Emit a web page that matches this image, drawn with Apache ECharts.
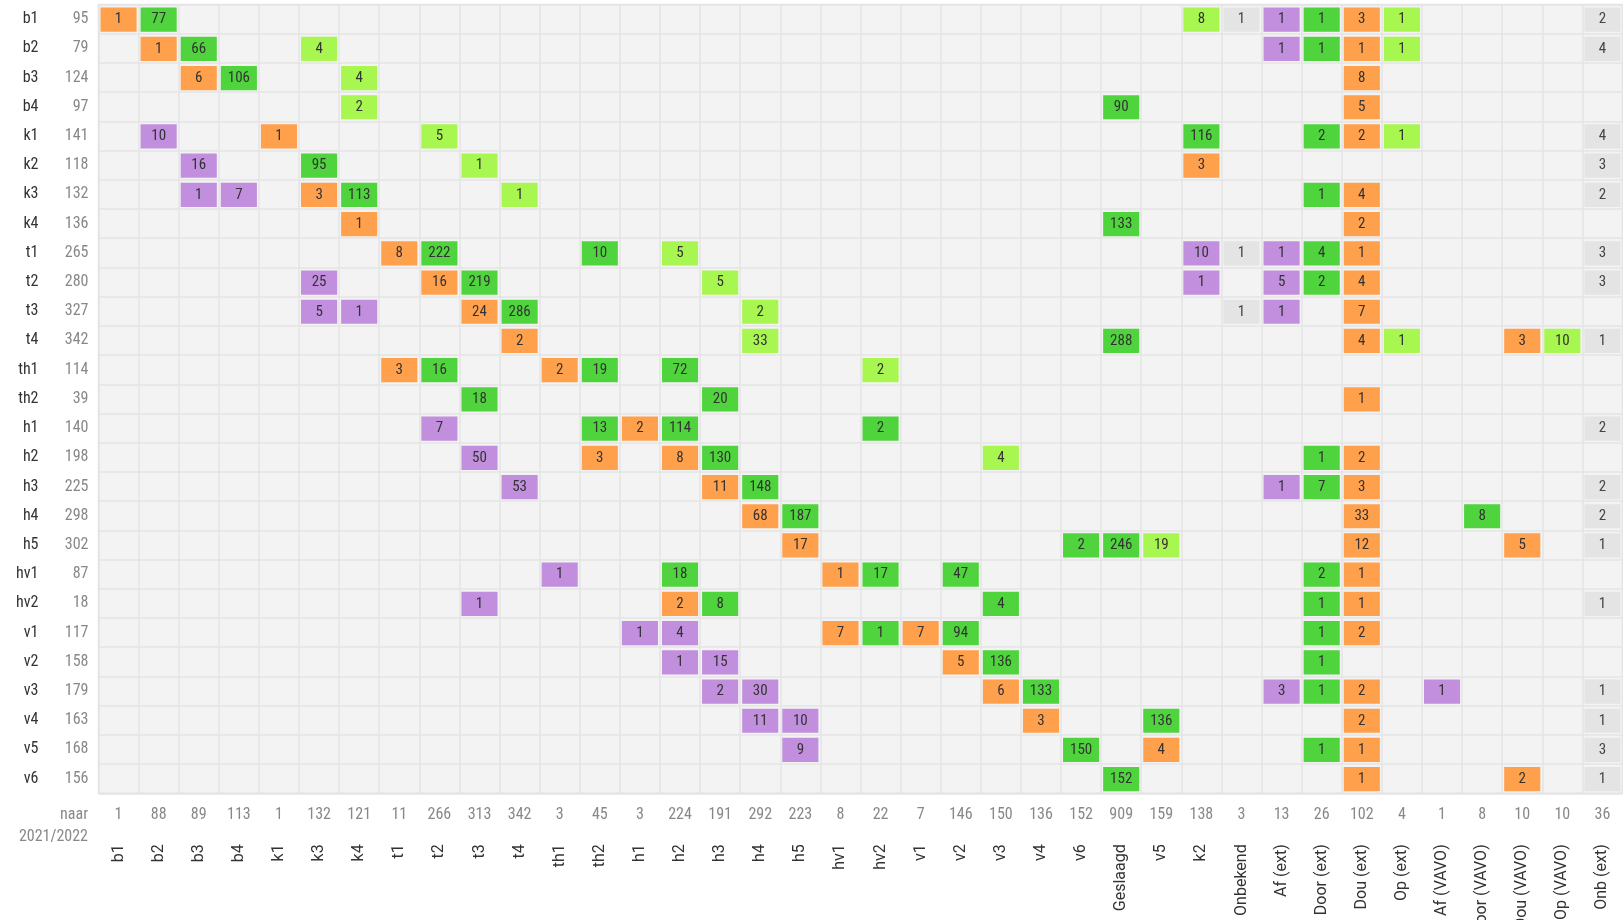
<!DOCTYPE html>
<html><head><meta charset="utf-8">
<script src="https://cdn.jsdelivr.net/npm/echarts@6/dist/echarts.min.js"></script>
<style>html,body{margin:0;padding:0;background:#fff}#c{width:1623px;height:920px}</style>
</head><body><div id="c"></div>
<script>
const rows = ['b1','b2','b3','b4','k1','k2','k3','k4','t1','t2','t3','t4','th1','th2','h1','h2','h3','h4','h5','hv1','hv2','v1','v2','v3','v4','v5','v6'];
const rowTotals = [95,79,124,97,141,118,132,136,265,280,327,342,114,39,140,198,225,298,302,87,18,117,158,179,163,168,156];
const cols = ['b1','b2','b3','b4','k1','k3','k4','t1','t2','t3','t4','th1','th2','h1','h2','h3','h4','h5','hv1','hv2','v1','v2','v3','v4','v6','Geslaagd','v5','k2','Onbekend','Af (ext)','Door (ext)','Dou (ext)','Op (ext)','Af (VAVO)','Door (VAVO)','Dou (VAVO)','Op (VAVO)','Onb (ext)'];
const colTotals = [1,88,89,113,1,132,121,11,266,313,342,3,45,3,224,191,292,223,8,22,7,146,150,136,152,909,159,138,3,13,26,102,4,1,8,10,10,36];

// [from (row), to (column), count]
const orangeCells = [
  ['b1','b1',1],['b1','Dou (ext)',3],
  ['b2','b2',1],['b2','Dou (ext)',1],
  ['b3','b3',6],['b3','Dou (ext)',8],
  ['b4','Dou (ext)',5],
  ['k1','k1',1],['k1','Dou (ext)',2],
  ['k2','k2',3],
  ['k3','k3',3],['k3','Dou (ext)',4],
  ['k4','k4',1],['k4','Dou (ext)',2],
  ['t1','t1',8],['t1','Dou (ext)',1],
  ['t2','t2',16],['t2','Dou (ext)',4],
  ['t3','t3',24],['t3','Dou (ext)',7],
  ['t4','t4',2],['t4','Dou (ext)',4],['t4','Dou (VAVO)',3],
  ['th1','t1',3],['th1','th1',2],
  ['th2','Dou (ext)',1],
  ['h1','h1',2],
  ['h2','th2',3],['h2','h2',8],['h2','Dou (ext)',2],
  ['h3','h3',11],['h3','Dou (ext)',3],
  ['h4','h4',68],['h4','Dou (ext)',33],
  ['h5','h5',17],['h5','Dou (ext)',12],['h5','Dou (VAVO)',5],
  ['hv1','hv1',1],['hv1','Dou (ext)',1],
  ['hv2','h2',2],['hv2','Dou (ext)',1],
  ['v1','hv1',7],['v1','v1',7],['v1','Dou (ext)',2],
  ['v2','v2',5],
  ['v3','v3',6],['v3','Dou (ext)',2],
  ['v4','v4',3],['v4','Dou (ext)',2],
  ['v5','v5',4],['v5','Dou (ext)',1],
  ['v6','Dou (ext)',1],['v6','Dou (VAVO)',2]
];
const greenCells = [
  ['b1','b2',77],['b1','Door (ext)',1],
  ['b2','b3',66],['b2','Door (ext)',1],
  ['b3','b4',106],
  ['b4','Geslaagd',90],
  ['k1','k2',116],['k1','Door (ext)',2],
  ['k2','k3',95],
  ['k3','k4',113],['k3','Door (ext)',1],
  ['k4','Geslaagd',133],
  ['t1','t2',222],['t1','th2',10],['t1','Door (ext)',4],
  ['t2','t3',219],['t2','Door (ext)',2],
  ['t3','t4',286],
  ['t4','Geslaagd',288],
  ['th1','t2',16],['th1','th2',19],['th1','h2',72],
  ['th2','t3',18],['th2','h3',20],
  ['h1','th2',13],['h1','h2',114],['h1','hv2',2],
  ['h2','h3',130],['h2','Door (ext)',1],
  ['h3','h4',148],['h3','Door (ext)',7],
  ['h4','h5',187],['h4','Door (VAVO)',8],
  ['h5','v6',2],['h5','Geslaagd',246],
  ['hv1','h2',18],['hv1','hv2',17],['hv1','v2',47],['hv1','Door (ext)',2],
  ['hv2','h3',8],['hv2','v3',4],['hv2','Door (ext)',1],
  ['v1','hv2',1],['v1','v2',94],['v1','Door (ext)',1],
  ['v2','v3',136],['v2','Door (ext)',1],
  ['v3','v4',133],['v3','Door (ext)',1],
  ['v4','v5',136],
  ['v5','v6',150],['v5','Door (ext)',1],
  ['v6','Geslaagd',152]
];
const limeCells = [
  ['b1','k2',8],['b1','Op (ext)',1],
  ['b2','k3',4],['b2','Op (ext)',1],
  ['b3','k4',4],
  ['b4','k4',2],
  ['k1','t2',5],['k1','Op (ext)',1],
  ['k2','t3',1],
  ['k3','t4',1],
  ['t1','h2',5],
  ['t2','h3',5],
  ['t3','h4',2],
  ['t4','h4',33],['t4','Op (ext)',1],['t4','Op (VAVO)',10],
  ['th1','hv2',2],
  ['h2','v3',4],
  ['h5','v5',19]
];
const purpleCells = [
  ['b1','Af (ext)',1],
  ['b2','Af (ext)',1],
  ['k1','b2',10],
  ['k2','b3',16],
  ['k3','b3',1],['k3','b4',7],
  ['t1','k2',10],['t1','Af (ext)',1],
  ['t2','k3',25],['t2','k2',1],['t2','Af (ext)',5],
  ['t3','k3',5],['t3','k4',1],['t3','Af (ext)',1],
  ['h1','t2',7],
  ['h2','t3',50],
  ['h3','t4',53],['h3','Af (ext)',1],
  ['hv1','th1',1],
  ['hv2','t3',1],
  ['v1','h1',1],['v1','h2',4],
  ['v2','h2',1],['v2','h3',15],
  ['v3','h3',2],['v3','h4',30],['v3','Af (ext)',3],['v3','Af (VAVO)',1],
  ['v4','h4',11],['v4','h5',10],
  ['v5','h5',9]
];
const greyCells = [
  ['b1','Onbekend',1],['b1','Onb (ext)',2],
  ['b2','Onb (ext)',4],
  ['k1','Onb (ext)',4],
  ['k2','Onb (ext)',3],
  ['k3','Onb (ext)',2],
  ['t1','Onbekend',1],['t1','Onb (ext)',3],
  ['t2','Onb (ext)',3],
  ['t3','Onbekend',1],
  ['t4','Onb (ext)',1],
  ['h1','Onb (ext)',2],
  ['h3','Onb (ext)',2],
  ['h4','Onb (ext)',2],
  ['h5','Onb (ext)',1],
  ['hv2','Onb (ext)',1],
  ['v3','Onb (ext)',1],
  ['v4','Onb (ext)',1],
  ['v5','Onb (ext)',3],
  ['v6','Onb (ext)',1]
];

const FONT = '"Roboto Condensed","Liberation Sans Narrow","DejaVu Sans Condensed",Roboto,sans-serif';
const FONT_WIDE = 'Roboto,"Noto Sans",sans-serif';

function toData(list){ return list.map(([r,c,v]) => [cols.indexOf(c), rows.indexOf(r), v]); }

function cellSeries(name, list, fill, textColor){
  return {
    type: 'custom', name,
    coordinateSystem: 'cartesian2d',
    xAxisIndex: 0, yAxisIndex: 0,
    data: toData(list),
    encode: { x: 0, y: 1 },
    renderItem: function(params, api){
      const p = api.coord([api.value(0), api.value(1)]);
      const s = api.size([1, 1]);
      const w = s[0] - 4, h = s[1] - 5;
      return {
        type: 'rect',
        shape: { x: p[0] - w/2, y: p[1] - h/2 + 0.5, width: w, height: h },
        style: { fill: fill },
        textContent: { style: { text: String(api.value(2)), fill: textColor, font: '15px ' + FONT } },
        textConfig: { position: 'inside' }
      };
    }
  };
}

const chart = echarts.init(document.getElementById('c'), null, { renderer: 'canvas' });
chart.setOption({
  animation: false,
  backgroundColor: '#ffffff',
  grid: { left: 98.5, top: 4.5, right: 0.5, bottom: 126.7, containLabel: false, outerBoundsMode: 'none',
          show: true, backgroundColor: '#f3f3f3', borderColor: '#e4e4e4', borderWidth: 1.5 },
  xAxis: [
    { type: 'category', data: cols, position: 'bottom', offset: 0,
      axisLine: { show: false }, axisTick: { show: false },
      splitLine: { show: true, interval: 0, lineStyle: { color: '#e4e4e4', width: 1.5 } },
      axisLabel: { interval: 0, rotate: 90, margin: 51, color: '#333', fontSize: 16, fontFamily: FONT_WIDE }
    },
    { type: 'category', data: cols, position: 'bottom', offset: 0, gridIndex: 0,
      axisLine: { show: false }, axisTick: { show: false }, splitLine: { show: false },
      axisLabel: { interval: 0, margin: 14, color: '#888', fontSize: 16, fontFamily: FONT,
        formatter: (v, i) => String(colTotals[i]) }
    }
  ],
  yAxis: {
    type: 'category', data: rows, inverse: true,
    axisLine: { show: false }, axisTick: { show: false },
    splitLine: { show: true, interval: 0, lineStyle: { color: '#e4e4e4', width: 1.5 } },
    axisLabel: { interval: 0, margin: 10,
      formatter: (v, i) => '{n|' + v + '}{t|' + rowTotals[i] + '}',
      rich: {
        n: { color: '#333', fontSize: 16, fontFamily: FONT, align: 'right' },
        t: { color: '#888', fontSize: 16, fontFamily: FONT, width: 50, align: 'right' }
      }
    }
  },
  graphic: [
    { type: 'text', right: 1623 - 88, top: 807, style: { text: 'naar', fill: '#888', font: '16px ' + FONT, align: 'right' } },
    { type: 'text', right: 1623 - 88, top: 829, style: { text: '2021/2022', fill: '#888', font: '16px ' + FONT, align: 'right' } }
  ],
  series: [
    cellSeries('Doublure', orangeCells, '#ffa04c', '#333'),
    cellSeries('Bevorderd', greenCells, '#4fd43e', '#333'),
    cellSeries('Opstroom', limeCells, '#a8f650', '#333'),
    cellSeries('Afstroom', purpleCells, '#c18fdd', '#333'),
    cellSeries('Onbekend', greyCells, '#e4e4e4', '#444')
  ]
});
</script></body></html>
